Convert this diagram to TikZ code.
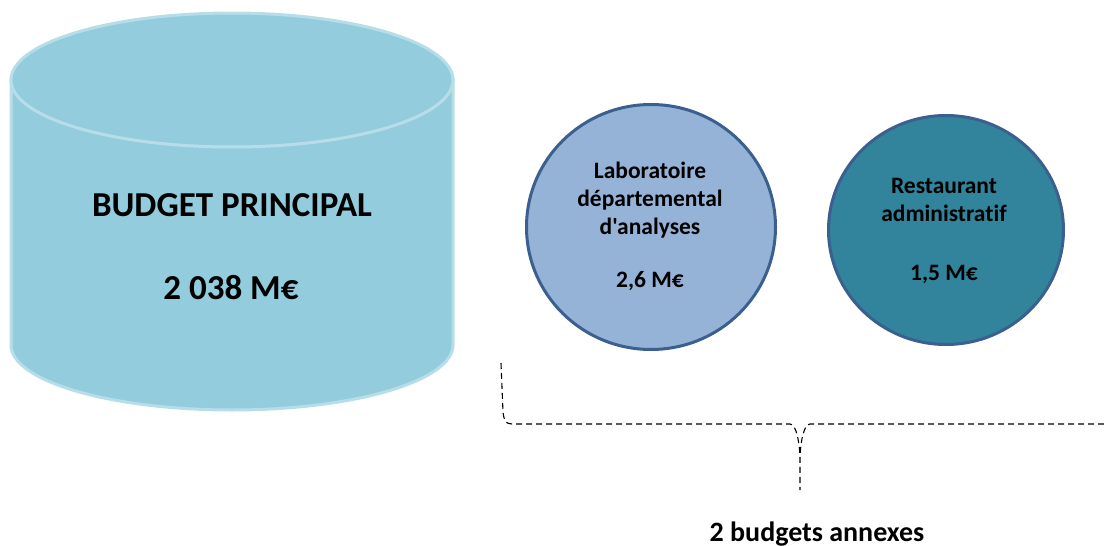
\documentclass[tikz,border=0pt]{standalone}
\usepackage{fontspec}
\newfontfamily\calib{Carlito}[Ligatures=NoCommon]
\usetikzlibrary{shapes.geometric}
\definecolor{cylfill}{HTML}{93CDDD}
\definecolor{cylline}{HTML}{B7DEE8}
\definecolor{labfill}{HTML}{95B3D7}
\definecolor{resfill}{HTML}{31849B}
\definecolor{ringline}{HTML}{3B5F8E}
\begin{document}
\begin{tikzpicture}[x=1pt,y=-1pt,
  lbl/.style={font=\calib\bfseries\fontsize{23.5}{23.5}\selectfont, anchor=base, inner sep=0pt},
  big/.style={font=\calib\bfseries\fontsize{35}{35}\selectfont, anchor=base, inner sep=0pt},
  ring/.style={ellipse, draw=ringline, line width=3pt, inner sep=0pt},
  cyl/.style={fill=cylfill, draw=cylline, line width=3pt},
  bracket/.style={dash pattern=on 6pt off 4pt, line width=1.1pt}]
\useasboundingbox (0,0) rectangle (1104,546);
% cylinder
\path[cyl] (11,80) -- (11,345) arc[start angle=180,end angle=360,x radius=221pt,y radius=65pt] -- (453,80) -- cycle;
\path[cyl] (232,80) ellipse[x radius=221pt, y radius=67pt];
\node[big] (bp) at (232,216) {BUDGET PRINCIPAL};
\node[big] (bpv) at (231,299) {2 038 M€};
% annex circles
\node[ring, fill=labfill, minimum width=249pt, minimum height=245pt] (lab) at (651,227) {};
\node[ring, fill=resfill, minimum width=235pt, minimum height=229pt] (res) at (946,230) {};
\node[lbl] (l1) at (650,178) {Laboratoire};
\node[lbl] (l2) at (650,206) {départemental};
\node[lbl] (l3) at (650,234) {d'analyses};
\node[lbl] (l4) at (650,287) {2,6 M€};
\node[lbl] (r1) at (944,193) {Restaurant};
\node[lbl] (r2) at (944,221) {administratif};
\node[lbl] (r3) at (944,280) {1,5 M€};
% brace
\coordinate (btop) at (501,363);
\coordinate (bcorner) at (512,424);
\coordinate (btip) at (800,455);
\coordinate (bfoot) at (800,490);
\coordinate (bright) at (1104,424);
\draw[bracket] (btop) -- (503,412) .. controls (504,421) and (506,424) .. (bcorner) -- (790,424) .. controls (796,424) and (799,440) .. (btip) -- (bfoot);
\draw[bracket] (bright) -- (810,424) .. controls (804,424) and (801,440) .. (btip);
\node[font=\calib\bfseries\fontsize{28}{28}\selectfont, anchor=base, inner sep=0pt] (ann) at (817,541) {2 budgets annexes};
\end{tikzpicture}
\end{document}
